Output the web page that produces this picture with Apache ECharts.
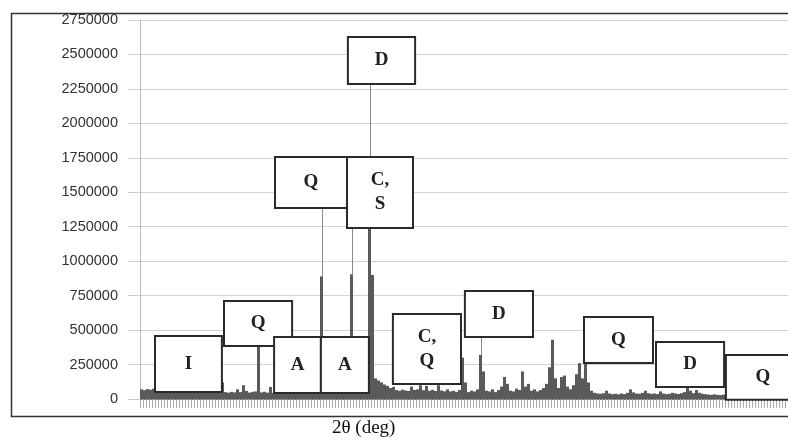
<!DOCTYPE html>
<html>
<head>
<meta charset="utf-8">
<script src="https://cdn.jsdelivr.net/npm/echarts@6/dist/echarts.min.js"></script>
<style>
html,body{margin:0;padding:0;background:#fff;}
#chart{width:788px;height:444px;}
</style>
</head>
<body>
<div id="chart"></div>
<script>
// Intensity per 2θ step (counts)
const intensity = [
  70000,64000,72000,68000,75000,66000,71000,63000,69000,74000,
  67000,62000,70000,66000,72000,64000,60000,67000,61000,58000,
  63000,57000,60000,54000,58000,52000,55000,120000,50000,46000,
  52000,48000,70000,50000,100000,58000,47000,52000,55000,380000,
  48000,52000,46000,87000,45000,50000,42000,48000,44000,47000,
  43000,49000,45000,41000,47000,44000,50000,46000,52000,48000,
  890000,50000,45000,48000,43000,47000,52000,46000,50000,55000,
  905000,52000,58000,55000,62000,75000,1240000,900000,150000,135000,
  120000,105000,95000,80000,88000,65000,60000,68000,62000,58000,
  90000,66000,70000,100000,64000,95000,60000,67000,58000,100000,
  62000,56000,70000,55000,60000,52000,65000,300000,120000,50000,
  60000,55000,70000,320000,200000,60000,55000,70000,50000,65000,
  90000,160000,110000,60000,55000,75000,65000,200000,90000,110000,
  60000,70000,55000,65000,80000,110000,230000,430000,150000,80000,
  160000,170000,90000,70000,100000,180000,260000,150000,270000,120000,
  60000,45000,40000,38000,42000,60000,40000,35000,38000,34000,
  40000,36000,45000,70000,48000,40000,38000,45000,60000,42000,
  38000,40000,36000,55000,40000,35000,38000,45000,40000,36000,
  42000,50000,90000,60000,42000,65000,45000,38000,35000,32000,
  30000,34000,30000,28000,32000,30000,27000,30000,28000,25000,
  28000,26000,24000,27000,25000,23000,26000,24000,22000,25000,
  23000,21000,24000,22000,20000,23000
];

// Y-axis tick settings
const yMin = 0, yMax = 2750000, yStep = 250000;

// Phase label boxes (in step units along 2θ and intensity units)
const labelText   = ['I','Q','A','A','Q','C,\nS','D','C,\nQ','D','Q','D','Q'];
const labelLeft   = [5, 28, 44.7, 60.3, 45, 69, 69.3, 84.3, 108.3, 148, 172, 195.3];
const labelRight  = [27.3, 50.7, 60.3, 76.3, 69, 91, 91.7, 107, 131, 171, 194.7, 220];
const labelTop    = [457000, 711000, 450000, 450000, 1756000, 1756000, 2627000, 617000, 784000, 595000, 414000, 319000];
const labelBottom = [51000, 385000, 44000, 44000, 1386000, 1241000, 2286000, 109000, 450000, 261000, 87000, -5000];

// Leader lines: step index of peak, from peak value to box bottom
const leaderStep = [60, 70, 76, 113];
const leaderFrom = [890000, 905000, 1240000, 320000];
const leaderTo   = [1386000, 1241000, 2286000, 450000];

const boxData = labelText.map((t, i) => [labelLeft[i], labelRight[i], labelTop[i], labelBottom[i], t]);
const leaderData = leaderStep.map((s, i) => [s + 0.5, leaderFrom[i], leaderTo[i]]);

const chart = echarts.init(document.getElementById('chart'));
chart.setOption({
  animation: false,
  backgroundColor: '#fff',
  grid: { left: 140, right: 0, top: 20, bottom: 45, containLabel: false },
  xAxis: [
    {
      type: 'category',
      boundaryGap: true,
      axisLine: { show: true, lineStyle: { color: '#777', width: 1 } },
      axisTick: { show: true, interval: 0, length: 9, lineStyle: { color: '#aaa', width: 1 } },
      axisLabel: { show: false },
      splitLine: { show: false }
    },
    {
      type: 'value', min: 0, max: intensity.length, show: false,
      splitLine: { show: false }
    }
  ],
  yAxis: {
    type: 'value',
    min: yMin, max: yMax, interval: yStep,
    axisLine: { show: true, lineStyle: { color: '#bbb' } },
    axisTick: { show: true, length: 12, lineStyle: { color: '#ccc' } },
    axisLabel: {
      margin: 22, color: '#333',
      fontFamily: 'Liberation Sans, Arial, sans-serif', fontSize: 14.5,
      formatter: function (v) { return String(v); }
    },
    splitLine: { show: true, lineStyle: { color: '#d2d2d2', width: 1 } }
  },
  series: [
    {
      type: 'bar',
      data: intensity,
      barWidth: '100%',
      barGap: '0%',
      itemStyle: { color: '#5a5a5a' },
      z: 2
    },
    {
      type: 'custom',
      xAxisIndex: 1,
      data: leaderData,
      encode: { x: 0, y: [1, 2] },
      clip: false,
      z: 3,
      renderItem: function (params, api) {
        const a = api.coord([api.value(0), api.value(1)]);
        const b = api.coord([api.value(0), api.value(2)]);
        return {
          type: 'line',
          shape: { x1: Math.round(a[0]) + 0.5, y1: a[1], x2: Math.round(b[0]) + 0.5, y2: b[1] },
          style: { stroke: '#8a8a8a', lineWidth: 1 }
        };
      }
    },
    {
      type: 'custom',
      xAxisIndex: 1,
      data: boxData,
      encode: { x: [0, 1], y: [2, 3] },
      clip: false,
      z: 4,
      renderItem: function (params, api) {
        const p1 = api.coord([api.value(0), api.value(2)]);
        const p2 = api.coord([api.value(1), api.value(3)]);
        const txt = boxData[params.dataIndex][4];
        return {
          type: 'group',
          children: [
            {
              type: 'rect',
              shape: { x: p1[0], y: p1[1], width: p2[0] - p1[0], height: p2[1] - p1[1] },
              style: { fill: '#fff', stroke: '#2a2a2a', lineWidth: 2 }
            },
            {
              type: 'text',
              style: {
                text: txt,
                x: (p1[0] + p2[0]) / 2,
                y: (p1[1] + p2[1]) / 2,
                align: 'center',
                verticalAlign: 'middle',
                font: 'bold 19px "Liberation Serif", "Times New Roman", serif',
                lineHeight: 24,
                fill: '#222'
              }
            }
          ]
        };
      }
    }
  ],
  graphic: [
    {
      type: 'rect',
      left: 9, top: 11,
      shape: { x: 0, y: 0, width: 800, height: 403 },
      style: { fill: 'none', stroke: '#333', lineWidth: 1.5 },
      z: 10
    },
    {
      type: 'text',
      left: 332, top: 419,
      style: {
        text: '2θ (deg)',
        font: '19px "Liberation Serif", "Times New Roman", serif',
        fill: '#111'
      },
      z: 10
    }
  ]
});
</script>
</body>
</html>
